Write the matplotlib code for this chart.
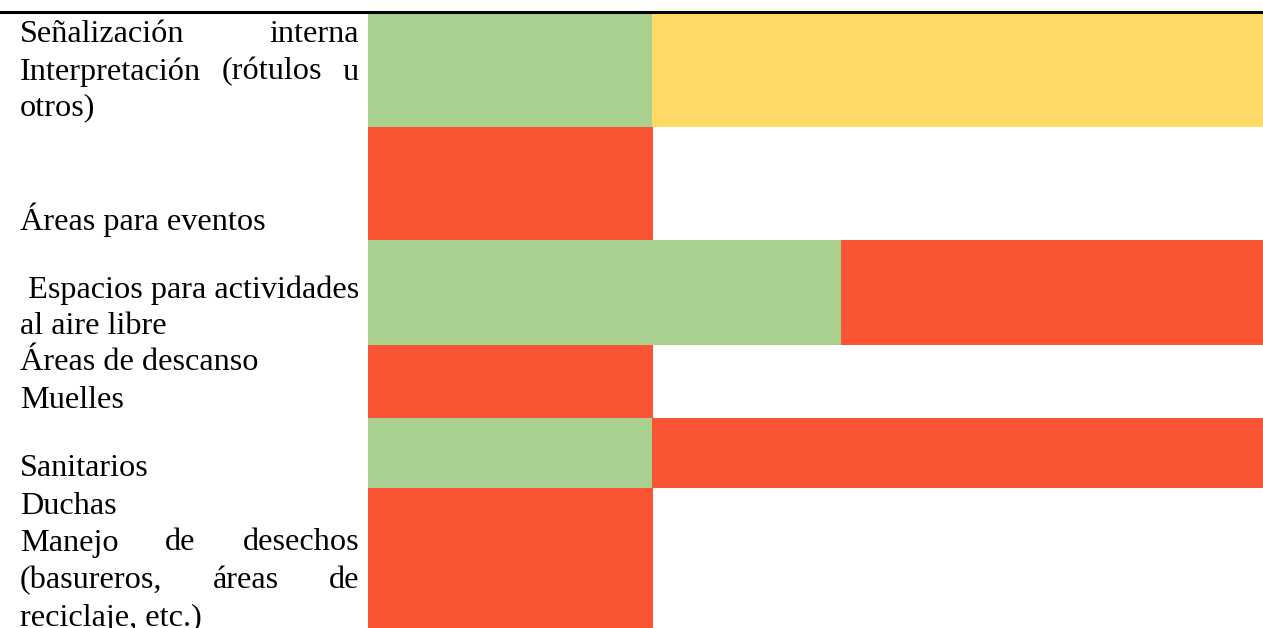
import matplotlib.pyplot as plt
from matplotlib.lines import Line2D

plt.rcParams['font.family'] = ['Liberation Serif', 'DejaVu Serif']

# row heights (px-like units) and segment widths (% of bar area)
row_heights = [114, 113, 105, 73, 70, 141]
seg1 = [31.7, 31.8, 52.8, 31.8, 31.7, 31.8]
seg2 = [68.3, 0, 47.2, 0, 68.3, 0]
col1 = ['#A9D08E', '#FA5435', '#A9D08E', '#FA5435', '#A9D08E', '#FA5435']
col2 = ['#FFD966', 'white', '#FA5435', 'white', '#FA5435', 'white']

# text lines: (y pixel, [words], justified)
lines = [
    (35, ['Señalización', 'interna'], True),
    (72, ['Interpretación', '(rótulos', 'u'], True),
    (108, ['otros)'], False),
    (220, ['Áreas para eventos'], False),
    (290, [' Espacios para actividades'], False),
    (326, ['al aire libre'], False),
    (362, ['Áreas de descanso'], False),
    (400, ['Muelles'], False),
    (468, ['Sanitarios'], False),
    (506, ['Duchas'], False),
    (543, ['Manejo', 'de', 'desechos'], True),
    (581, ['(basureros,', 'áreas', 'de'], True),
    (618, ['reciclaje, etc.)'], False),
]

W, H = 1263, 628
fig = plt.figure(figsize=(W / 100, H / 100), dpi=100)

ax = fig.add_axes([368 / W, 0, (W - 368) / W, (H - 13) / H])
bottoms = []
acc = 0
for h in row_heights:
    bottoms.append(acc)
    acc += h
centers = [b + h / 2 for b, h in zip(bottoms, row_heights)]
ax.barh(centers, seg1, height=row_heights, color=col1, linewidth=0)
ax.barh(centers, seg2, left=seg1, height=row_heights, color=col2, linewidth=0)
ax.set_xlim(0, 100)
ax.set_ylim(acc - 1, 0)
ax.axis('off')

fig.add_artist(Line2D([0, 1], [1 - 12 / H, 1 - 12 / H], color='black', lw=2.2,
                      transform=fig.transFigure))

x0, x1 = 20, 359
fs = 23.2
for y, words, just in lines:
    yy = 1 - y / H
    if not just:
        fig.text(x0 / W, yy, words[0], ha='left', va='center', fontsize=fs)
        continue
    # justified: measure words and spread the gaps
    r = fig.canvas.get_renderer()
    ts = [fig.text(0, yy, w, ha='left', va='center', fontsize=fs) for w in words]
    widths = [t.get_window_extent(renderer=r).width for t in ts]
    gap = (x1 - x0 - sum(widths)) / (len(words) - 1)
    x = x0
    for t, w in zip(ts, widths):
        t.set_x(x / W)
        x += w + gap

fig.savefig('out.png', dpi=100)
